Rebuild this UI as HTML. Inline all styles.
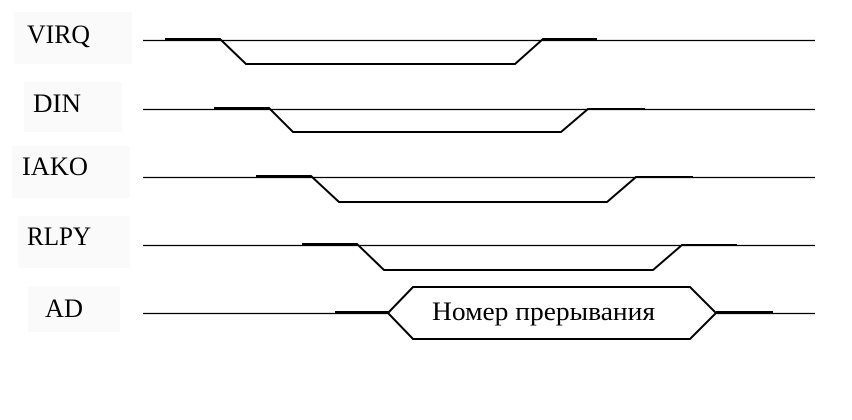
<!DOCTYPE html>
<html><head><meta charset="utf-8"><style>
html,body{margin:0;padding:0;background:#fff;width:852px;height:420px;overflow:hidden}
svg{display:block}
text{font-family:"Liberation Serif","Noto Serif CJK SC",serif;fill:#000}
</style></head><body>
<svg width="852" height="420" viewBox="0 0 852 420">
<g fill="#fafafa">
<rect x="14" y="12" width="118" height="52"/>
<rect x="24" y="82" width="98" height="50"/>
<rect x="12" y="146" width="118" height="52"/>
<rect x="18" y="216" width="112" height="52"/>
<rect x="28" y="286" width="92" height="46"/>
</g>
<g font-size="26">
<text x="27" y="43" textLength="63" lengthAdjust="spacingAndGlyphs">VIRQ</text>
<text x="33" y="112" textLength="48" lengthAdjust="spacingAndGlyphs">DIN</text>
<text x="22" y="175" textLength="66" lengthAdjust="spacingAndGlyphs">IAKO</text>
<text x="27" y="245" textLength="64" lengthAdjust="spacingAndGlyphs">RLPY</text>
<text x="45" y="317" textLength="38" lengthAdjust="spacingAndGlyphs">AD</text>
</g>
<g stroke="#000" stroke-width="1.2" fill="none">
<line x1="143" y1="40.5" x2="815" y2="40.5"/>
<line x1="143" y1="109.5" x2="815" y2="109.5"/>
<line x1="143" y1="177.5" x2="815" y2="177.5"/>
<line x1="143" y1="245.5" x2="815" y2="245.5"/>
<line x1="143" y1="313.5" x2="815" y2="313.5"/>
</g>
<g stroke="#000" stroke-width="2" fill="none">
<polyline points="165,39 220,39 246,64 515,64 543,39 597,39"/>
<polyline points="214,108 269,108 293,132 561,132 588,109 645,109"/>
<polyline points="256,176 311,176 339,202 607,202 636,177 693,177"/>
<polyline points="302,244 357,244 384,270 653,270 682,245 737,245"/>
<line x1="335" y1="312" x2="388" y2="312"/>
<line x1="716" y1="312" x2="773" y2="312"/>
<polygon fill="#fff" points="388,313 413,287 690,287 716,313 690,339 413,339"/>
</g>
<text x="432" y="320" font-size="26" textLength="223" lengthAdjust="spacingAndGlyphs">Номер прерывания</text>
</svg>
</body></html>
